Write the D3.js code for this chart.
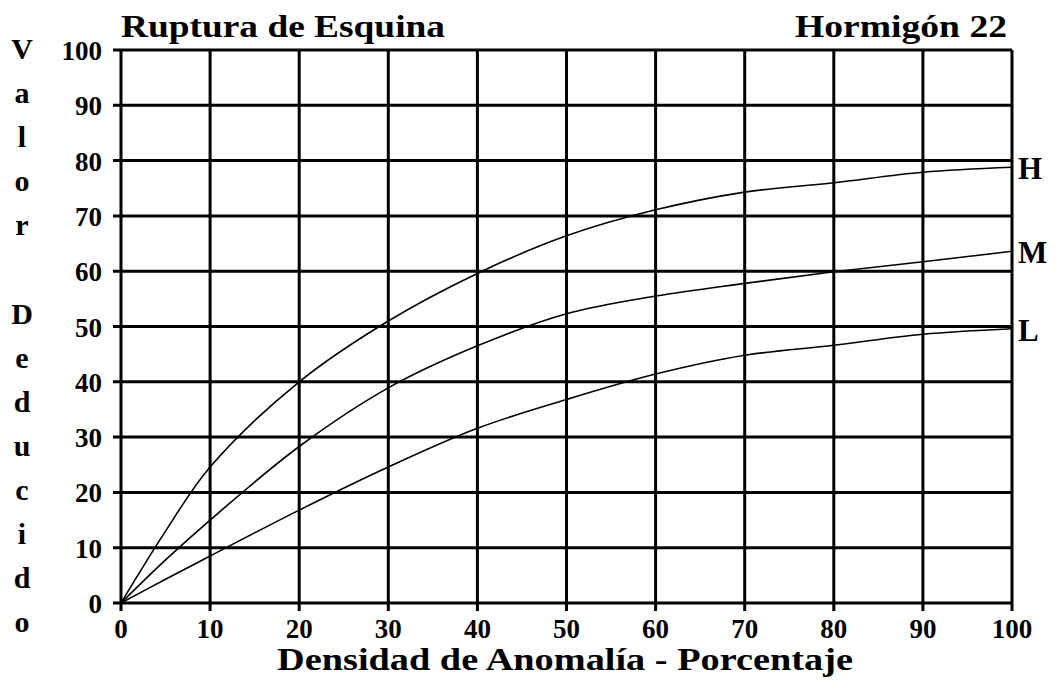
<!DOCTYPE html>
<html>
<head>
<meta charset="utf-8">
<script src="https://cdn.jsdelivr.net/npm/d3@7"></script>
<style>
  body { margin: 0; background: #fff; }
  text { font-family: "Liberation Serif", "Times New Roman", serif; font-weight: bold; fill: #000; }
</style>
</head>
<body>
<svg width="1057" height="683"></svg>
<script>
// values
var density = [0, 5, 10, 20, 30, 40, 50, 60, 70, 80, 90, 100];
var seriesH = [0, 13, 24.6, 40, 51, 59.6, 66.4, 71.1, 74.3, 76, 77.9, 78.8];
var seriesM = [0, 7.8, 15, 28.3, 38.9, 46.5, 52.3, 55.5, 57.8, 59.9, 61.7, 63.6];
var seriesL = [0, 4.3, 8.5, 16.8, 24.6, 31.6, 36.8, 41.4, 44.8, 46.6, 48.6, 49.6];
var seriesNames = ["H", "M", "L"];
var xTicks = [0, 10, 20, 30, 40, 50, 60, 70, 80, 90, 100];
var yTicks = [0, 10, 20, 30, 40, 50, 60, 70, 80, 90, 100];
var yTitle = "Valor Deducido";

var svg = d3.select("svg"),
    margin = {top: 50, left: 121};

var x = d3.scaleLinear().domain([0, 100]).range([0, 891]);
var y = d3.scaleLinear().domain([0, 100]).range([553, 0]);

var g = svg.append("g").attr("transform", "translate(" + margin.left + "," + margin.top + ")");

// grid, ticks stick out a little
g.append("g").selectAll("line").data(xTicks).enter().append("line")
    .attr("x1", function(d) { return x(d); })
    .attr("x2", function(d) { return x(d); })
    .attr("y1", 0).attr("y2", y(0) + 8)
    .attr("stroke", "#000").attr("stroke-width", 3);
g.append("g").selectAll("line").data(yTicks).enter().append("line")
    .attr("x1", -8).attr("x2", x(100))
    .attr("y1", function(d) { return y(d); })
    .attr("y2", function(d) { return y(d); })
    .attr("stroke", "#000").attr("stroke-width", 3);

// tick labels
g.append("g").selectAll("text").data(yTicks).enter().append("text")
    .attr("x", -19).attr("y", function(d) { return y(d) + 10; })
    .attr("text-anchor", "end").attr("font-size", 27)
    .text(function(d) { return d; });
g.append("g").selectAll("text").data(xTicks).enter().append("text")
    .attr("x", function(d) { return x(d); }).attr("y", y(0) + 35)
    .attr("text-anchor", "middle").attr("font-size", 27)
    .text(function(d) { return d; });

// curves
var line = d3.line()
    .x(function(d, i) { return x(density[i]); })
    .y(function(d) { return y(d); })
    .curve(d3.curveCatmullRom);

var all = [seriesH, seriesM, seriesL];
g.append("g").selectAll("path").data(all).enter().append("path")
    .attr("d", line)
    .attr("fill", "none").attr("stroke", "#000").attr("stroke-width", 1.6);

g.append("g").selectAll("text").data(all).enter().append("text")
    .attr("x", x(100) + 6)
    .attr("y", function(d) { return y(d[d.length - 1]) + 12; })
    .attr("font-size", 31)
    .text(function(d, i) { return seriesNames[i]; });

// titles
svg.append("text").attr("x", 121).attr("y", 37).attr("font-size", 32)
    .attr("textLength", 324).attr("lengthAdjust", "spacingAndGlyphs")
    .text("Ruptura de Esquina");
svg.append("text").attr("x", 795).attr("y", 37).attr("font-size", 32)
    .attr("textLength", 212).attr("lengthAdjust", "spacingAndGlyphs")
    .text("Hormigón 22");
svg.append("text").attr("x", 277).attr("y", 670).attr("font-size", 31)
    .attr("textLength", 576).attr("lengthAdjust", "spacingAndGlyphs")
    .text("Densidad de Anomalía - Porcentaje");

// vertical y title, one letter per row
svg.append("g").selectAll("text").data(yTitle.split("")).enter().append("text")
    .attr("x", 22).attr("y", function(d, i) { return 59 + i * 44.1; })
    .attr("text-anchor", "middle").attr("font-size", 30)
    .text(function(d) { return d; });
</script>
</body>
</html>
